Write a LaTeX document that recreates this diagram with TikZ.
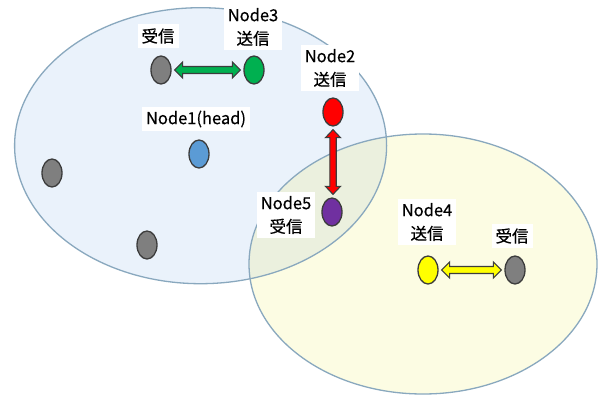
\documentclass[tikz,border=0pt]{standalone}
\usepackage{fontspec}
\setmainfont[FakeBold=0.4]{Noto Sans CJK JP}
\usetikzlibrary{shapes.geometric,calc}
\definecolor{bluefill}{HTML}{EAF2FB}
\definecolor{yellowfill}{HTML}{FCFCE3}
\definecolor{overlapfill}{HTML}{EBF0DE}
\definecolor{ringline}{HTML}{89A8BE}
\definecolor{dotline}{HTML}{3C3C3C}
\definecolor{dgray}{HTML}{7F7F7F}
\definecolor{dgreen}{HTML}{00B050}
\definecolor{dred}{HTML}{FF0000}
\definecolor{dpurple}{HTML}{7030A0}
\definecolor{dblue}{HTML}{5B9BD5}
\definecolor{dyellow}{HTML}{FFFF00}
\newcommand{\hblockarrow}[3]{%
  \draw[blockarrow, fill=#3] let \p1=(#1.east), \p2=(#2.west) in
    (\x1+3pt,\y1) -- (\x1+11pt,\y1+8pt) -- (\x1+11pt,\y1+3.5pt) -- (\x2-11pt,\y1+3.5pt)
    -- (\x2-11pt,\y1+8pt) -- (\x2-3pt,\y1) -- (\x2-11pt,\y1-8pt) -- (\x2-11pt,\y1-3.5pt)
    -- (\x1+11pt,\y1-3.5pt) -- (\x1+11pt,\y1-8pt) -- cycle;}
\newcommand{\vblockarrow}[3]{%
  \draw[blockarrow, fill=#3] let \p1=(#1.south), \p2=(#2.north) in
    (\x1,\y1-3pt) -- (\x1+7.5pt,\y1-11pt) -- (\x1+3.2pt,\y1-11pt) -- (\x1+3.2pt,\y2+11pt)
    -- (\x1+7.5pt,\y2+11pt) -- (\x1,\y2+3pt) -- (\x1-7.5pt,\y2+11pt) -- (\x1-3.2pt,\y2+11pt)
    -- (\x1-3.2pt,\y1-11pt) -- (\x1-7.5pt,\y1-11pt) -- cycle;}
\begin{document}
\begin{tikzpicture}[x=1pt,y=-1pt,
  dot/.style={ellipse, draw=dotline, line width=1.3pt, minimum width=20pt, minimum height=28pt, inner sep=0pt},
  lbl/.style={fill=white, align=center, inner sep=4pt, font=\fontsize{16.5}{23.5}\selectfont},
  blockarrow/.style={draw=dotline, line width=1.1pt, line join=miter},
  ring/.style={draw=ringline, line width=1.3pt}]
\fill[white] (0,0) rectangle (599,396);
\useasboundingbox (0,0) rectangle (599,396);
% regions
\fill[bluefill] (200.6,145.7) ellipse [x radius=186, y radius=138];
\fill[yellowfill] (423,264) ellipse [x radius=174, y radius=130];
\begin{scope}
  \clip (200.6,145.7) ellipse [x radius=186, y radius=138];
  \fill[overlapfill] (423,264) ellipse [x radius=174, y radius=130];
\end{scope}
\draw[ring] (200.6,145.7) ellipse [x radius=186, y radius=138];
\draw[ring] (423,264) ellipse [x radius=174, y radius=130];
% labels
\node[lbl] (l3r) at (158,36) {受信};
\node[lbl] (l3) at (253,27) {Node3\\送信};
\node[lbl] (l2) at (330,68) {Node2\\送信};
\node[lbl] (l1) at (196,119) {Node1(head)};
\node[lbl] (l5) at (286,215) {Node5\\受信};
\node[lbl] (l4) at (427,222) {Node4\\送信};
\node[lbl] (l4r) at (512,236) {受信};
% dots
\node[dot, fill=dgray] (g1) at (161,70) {};
\node[dot, fill=dgreen] (n3) at (254,70) {};
\node[dot, fill=dred] (n2) at (333,112) {};
\node[dot, fill=dblue] (n1) at (199,154) {};
\node[dot, fill=dgray] (g2) at (52,173) {};
\node[dot, fill=dgray] (g3) at (147,245) {};
\node[dot, fill=dpurple] (n5) at (332,212) {};
\node[dot, fill=dyellow] (n4) at (428,270) {};
\node[dot, fill=dgray] (g4) at (515,270) {};
% arrows
\hblockarrow{g1}{n3}{dgreen}
\vblockarrow{n2}{n5}{dred}
\hblockarrow{n4}{g4}{dyellow}
\end{tikzpicture}
\end{document}
